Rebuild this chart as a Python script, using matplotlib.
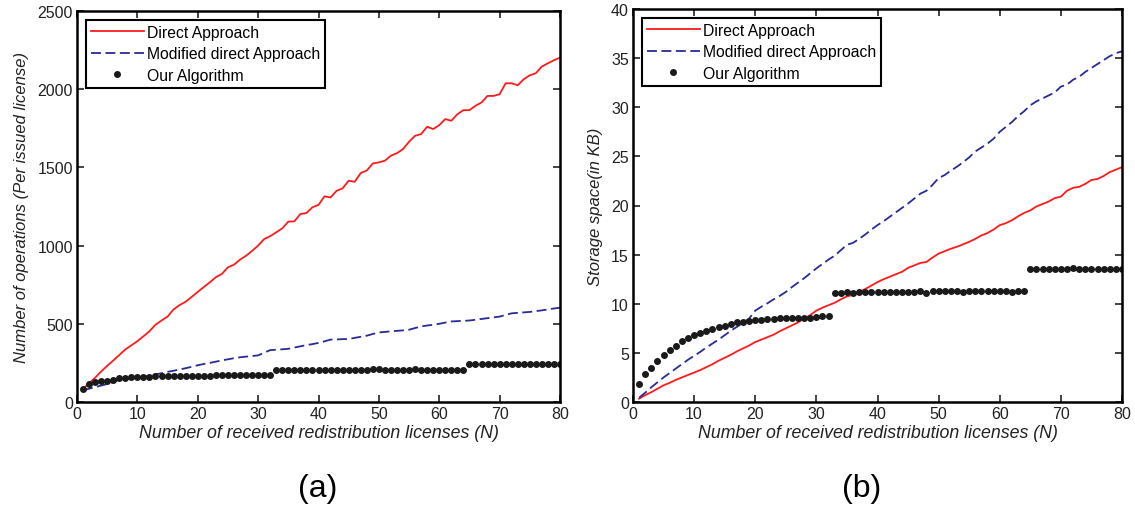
import matplotlib
matplotlib.use("Agg")
import matplotlib.pyplot as plt
import numpy as np

plt.rcParams['font.family'] = ['Liberation Sans', 'DejaVu Sans']

N = list(range(1, 81))

# (a) Number of operations
ops_direct = [84, 120, 155, 195, 231, 265, 300, 336, 362, 389,
              420, 452, 494, 521, 546, 592, 620, 641, 672, 704,
              735, 765, 798, 819, 861, 878, 910, 935, 966, 1000,
              1042, 1060, 1085, 1110, 1153, 1155, 1202, 1208, 1245, 1260,
              1315, 1308, 1350, 1366, 1415, 1408, 1464, 1480, 1525, 1532,
              1543, 1575, 1591, 1617, 1664, 1702, 1713, 1760, 1745, 1770,
              1809, 1798, 1840, 1866, 1866, 1894, 1915, 1957, 1957, 1968,
              2038, 2038, 2025, 2064, 2089, 2102, 2145, 2166, 2185, 2202]
ops_modified = [74, 85, 95, 105, 115, 128, 143, 148, 153, 158,
                162, 168, 176, 184, 193, 200, 208, 216, 225, 235,
                243, 250, 258, 266, 273, 280, 286, 290, 294, 298,
                315, 332, 334, 337, 340, 348, 356, 364, 370, 378,
                388, 399, 400, 402, 403, 410, 417, 424, 435, 445,
                448, 452, 455, 458, 462, 473, 483, 489, 494, 500,
                508, 515, 517, 519, 521, 526, 531, 536, 541, 546,
                557, 567, 570, 573, 576, 581, 586, 592, 598, 603]
ops_ours = [80, 115, 130, 137, 137, 143, 153, 153, 160, 160,
            160, 160, 168, 168, 168, 168, 168, 168, 168, 168,
            168, 168, 175, 175, 175, 175, 175, 175, 175, 175,
            175, 175, 206, 206, 206, 206, 206, 206, 206, 206,
            206, 206, 206, 206, 206, 206, 206, 206, 214, 214,
            206, 206, 206, 206, 206, 214, 206, 206, 206, 206,
            206, 206, 206, 206, 242, 242, 242, 242, 242, 242,
            242, 242, 242, 242, 242, 242, 242, 242, 242, 242]

# (b) Storage space (KB)
st_direct = [0.34, 0.7, 1.0, 1.35, 1.7, 1.95, 2.25, 2.5, 2.75, 3.0,
             3.25, 3.55, 3.85, 4.2, 4.5, 4.8, 5.15, 5.45, 5.75, 6.1,
             6.35, 6.6, 6.85, 7.2, 7.5, 7.8, 8.1, 8.5, 8.85, 9.3,
             9.6, 9.85, 10.1, 10.45, 10.75, 10.9, 11.2, 11.5, 11.85, 12.2,
             12.5, 12.75, 13.0, 13.25, 13.65, 13.9, 14.15, 14.25, 14.7, 15.1,
             15.35, 15.6, 15.8, 16.05, 16.3, 16.6, 16.95, 17.2, 17.55, 18.0,
             18.2, 18.5, 18.9, 19.25, 19.5, 19.9, 20.15, 20.4, 20.75, 20.9,
             21.5, 21.8, 21.9, 22.2, 22.6, 22.7, 23.0, 23.4, 23.65, 23.9]
st_modified = [0.44, 0.95, 1.5, 2.0, 2.5, 2.95, 3.4, 3.85, 4.3, 4.7,
               5.1, 5.55, 5.95, 6.35, 6.8, 7.25, 7.65, 8.05, 8.5, 9.3,
               9.7, 10.05, 10.45, 10.8, 11.2, 11.7, 12.15, 12.6, 13.1, 13.6,
               14.05, 14.5, 14.9, 15.45, 16.0, 16.2, 16.6, 17.05, 17.55, 18.0,
               18.4, 18.85, 19.3, 19.75, 20.2, 20.7, 21.2, 21.5, 22.1, 22.8,
               23.1, 23.55, 23.95, 24.4, 24.9, 25.5, 25.9, 26.3, 26.8, 27.5,
               28.0, 28.5, 29.1, 29.6, 30.2, 30.6, 30.9, 31.2, 31.5, 32.1,
               32.3, 32.8, 33.1, 33.6, 34.0, 34.4, 34.8, 35.2, 35.5, 35.7]
st_ours = [1.8, 2.8, 3.5, 4.2, 4.8, 5.3, 5.7, 6.2, 6.5, 6.8,
           7.0, 7.2, 7.4, 7.6, 7.7, 7.9, 8.1, 8.1, 8.2, 8.3,
           8.3, 8.4, 8.4, 8.5, 8.5, 8.5, 8.5, 8.6, 8.6, 8.7,
           8.8, 8.8, 11.1, 11.1, 11.2, 11.1, 11.2, 11.2, 11.2, 11.2,
           11.2, 11.2, 11.2, 11.2, 11.2, 11.2, 11.3, 11.1, 11.3, 11.3,
           11.3, 11.3, 11.3, 11.2, 11.3, 11.3, 11.3, 11.3, 11.3, 11.3,
           11.3, 11.2, 11.3, 11.3, 13.5, 13.5, 13.5, 13.5, 13.5, 13.5,
           13.5, 13.6, 13.5, 13.5, 13.5, 13.5, 13.5, 13.5, 13.5, 13.5]

labels = ['Direct Approach', 'Modified direct Approach', 'Our Algorithm']
xlabel = 'Number of received redistribution licenses (N)'

W, H = 1135, 506
fig = plt.figure(figsize=(W / 100, H / 100), dpi=100)

def px_axes(x0, y0, x1, y1):
    return fig.add_axes([x0 / W, 1 - y1 / H, (x1 - x0) / W, (y1 - y0) / H])

ax1 = px_axes(77, 12, 560, 403)
ax2 = px_axes(633, 10, 1122, 403)

def draw(ax, d, m, o, ylim, yticks, ylabel):
    ax.plot(N, d, color='#ff1a1a', lw=1.3, label=labels[0])
    ax.plot(N, m, color='#2a2a9a', lw=1.3, ls=(0, (5.5, 2.5)), label=labels[1])
    ax.plot(N, o, ls='none', marker='o', ms=4, color='#1a1a1a', label=labels[2])
    ax.set_xlim(0, 80)
    ax.set_ylim(*ylim)
    ax.set_xticks(range(0, 81, 10))
    ax.set_yticks(yticks)
    ax.tick_params(direction='in', top=True, right=True, length=5, width=1.2,
                   labelsize=11.5, pad=3, colors='#222222')
    for s in ax.spines.values():
        s.set_linewidth(1.8)
    ax.set_xlabel(xlabel, fontsize=12.8, style='italic', labelpad=2, color='#222222')
    ax.set_ylabel(ylabel, fontsize=12, style='italic', labelpad=6, color='#222222')
    leg = ax.legend(loc='upper left', fontsize=11.3, frameon=True, fancybox=False,
                    handlelength=3.4, borderpad=0.3, labelspacing=0.42,
                    handletextpad=0.2, borderaxespad=0.57, framealpha=1)
    leg.get_frame().set_edgecolor('black')
    leg.get_frame().set_linewidth(1.5)

draw(ax1, ops_direct, ops_modified, ops_ours, (0, 2500), range(0, 2501, 500),
     'Number of operations (Per issued license)')
draw(ax2, st_direct, st_modified, st_ours, (0, 40), range(0, 41, 5),
     'Storage space(in KB)')

fig.text(318 / W, 1 - 489 / H, '(a)', fontsize=23, ha='center', va='center')
fig.text(862 / W, 1 - 489 / H, '(b)', fontsize=23, ha='center', va='center')

fig.savefig('out.png', dpi=100)
